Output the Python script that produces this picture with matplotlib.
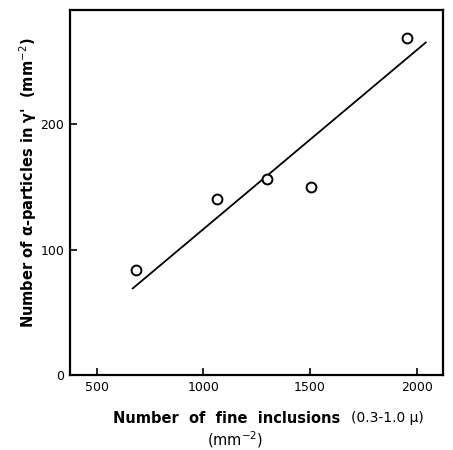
import numpy as np
import matplotlib.pyplot as plt

# measured points
inclusions = [684, 1063, 1297, 1503, 1956]
alpha_counts = [84, 140, 156, 150, 269]

# fitted line end points (as drawn)
fit_x = [669, 2042]
fit_y = [69, 265]

xticks = [500, 1000, 1500, 2000]
yticks = [0, 100, 200]

fig = plt.figure(figsize=(4.53, 4.5), dpi=100)
ax = fig.add_axes([0.1545, 0.1667, 0.8235, 0.8113])

ax.plot(fit_x, fit_y, color="black", lw=1.3)
ax.scatter(inclusions, alpha_counts, s=50, facecolors="white", edgecolors="black", linewidths=1.4, zorder=3)

ax.set_xlim(375, 2123)
ax.set_ylim(0, 291)
ax.set_xticks(xticks)
ax.set_yticks(yticks)
ax.tick_params(direction="in", length=5, width=1.2, labelsize=9, pad=4)
for s in ax.spines.values():
    s.set_linewidth(1.6)

fig.text(0.752, 0.071, "Number  of  fine  inclusions", ha="right", va="center",
         fontsize=10.5, fontweight="bold")
fig.text(0.774, 0.071, "(0.3-1.0 μ)", ha="left", va="center", fontsize=10)
fig.text(0.52, 0.022, "(mm$^{-2}$)", ha="center", va="center", fontsize=10.5)
fig.text(0.062, 0.595, "Number of α-particles in γ'  (mm$^{-2}$)", ha="center", va="center",
         rotation=90, fontsize=10.5, fontweight="bold")

fig.savefig("out.png", dpi=100)
